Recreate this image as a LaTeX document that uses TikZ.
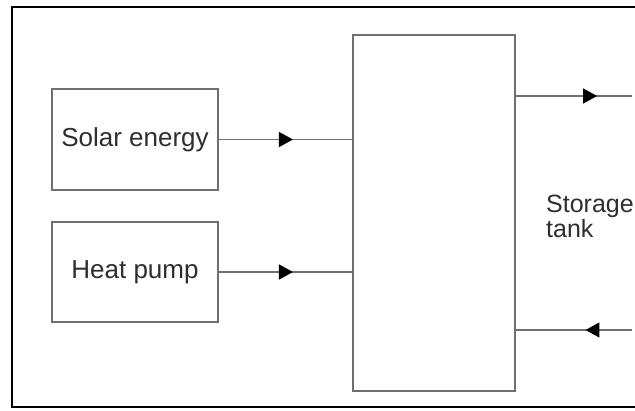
\documentclass[tikz,border=0pt]{standalone}
\usepackage{fontspec}
\setmainfont{Liberation Sans}
\usetikzlibrary{arrows.meta,decorations.markings}
\definecolor{linegray}{HTML}{707070}
\definecolor{textgray}{HTML}{2E2E2E}
\tikzset{
  box/.style={draw=linegray, line width=1.4pt, inner sep=0pt, text=textgray,
    font=\fontsize{26}{26}\selectfont},
  lbl/.style={inner sep=0pt, text=textgray, font=\fontsize{25}{25}\selectfont},
  flow/.style={draw=linegray, line width=1.2pt, postaction={decorate},
    decoration={markings, mark=at position #1 with {\arrow[black]{Triangle[length=14pt,width=15pt]}}}},
}
\begin{document}
\begin{tikzpicture}[x=1pt,y=-1pt]
\clip (0,0) rectangle (635,410);
\fill[white] (0,0) rectangle (635,410);
\draw[black, line width=2.4pt] (12,7) rectangle (660,407);
\node[box, minimum width=166pt, minimum height=101pt] (solar) at (135,139.5) {Solar energy};
\node[box, minimum width=166pt, minimum height=100pt] (heat) at (135,272) {Heat pump};
\node[box, minimum width=162pt, minimum height=356pt] (tank) at (434,213) {};
\node[lbl, anchor=base west] (st1) at (546,212) {Storage};
\node[lbl, anchor=base west] (st2) at (546,237) {tank};
\coordinate (out1) at (632,96);
\coordinate (in1) at (632,330);
\draw[flow=0.556] (solar.east) -- (solar.east -| tank.west);
\draw[flow=0.556] (heat.east) -- (heat.east -| tank.west);
\draw[flow=0.70] (tank.east |- out1) -- (out1);
\draw[flow=0.40] (in1) -- (tank.east |- in1);
\end{tikzpicture}
\end{document}
